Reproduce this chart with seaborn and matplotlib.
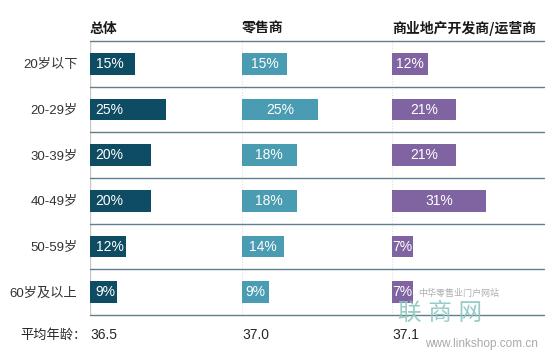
import matplotlib
matplotlib.use("Agg")
import matplotlib.pyplot as plt
import seaborn as sns
import pandas as pd

categories = ["20岁以下", "20-29岁", "30-39岁", "40-49岁", "50-59岁", "60岁及以上"]
panel_titles = ["总体", "零售商", "商业地产开发商/运营商"]
overall = [15, 25, 20, 20, 12, 9]
retailers = [15, 25, 18, 18, 14, 9]
developers = [12, 21, 21, 31, 7, 7]
avg_label = "平均年龄："
avg_ages = [36.5, 37.0, 37.1]

colors = ["#0e4c63", "#4a9cb2", "#8064a2"]
series = [overall, retailers, developers]
label_align = ["left", "center", "center"]

sns.set_style("white")
plt.rcParams["font.family"] = ["Liberation Sans", "Noto Sans CJK SC"]
plt.rcParams["axes.unicode_minus"] = False

W, H = 550, 352
fig = plt.figure(figsize=(W / 100, H / 100), dpi=100)

left0 = 90
pw = [152, 150, 152]
top, bottom = 41, 315
axes = []
x = left0
for i in range(3):
    ax = fig.add_axes([x / W, 1 - bottom / H, pw[i] / W, (bottom - top) / H])
    x += pw[i]
    axes.append(ax)

for i, ax in enumerate(axes):
    df = pd.DataFrame({"cat": categories, "val": series[i]})
    sns.barplot(data=df, x="val", y="cat", orient="h", color=colors[i],
                saturation=1, width=0.48, ax=ax, edgecolor="none")
    ax.set_xlim(0, pw[i] / 3.03)
    ax.set_ylim(len(categories) - 0.5, -0.5)
    ax.set_xlabel("")
    ax.set_ylabel("")
    ax.set_xticks([])
    for s in ax.spines.values():
        s.set_visible(False)
    for b in range(len(categories) + 1):
        ax.axhline(b - 0.5, color="#5f7f8c", lw=1.0, clip_on=False, zorder=3)
    if i == 0:
        ax.axvline(0, color="#c8c8c8", lw=1.0, zorder=0)
        ax.tick_params(axis="y", length=0, pad=9, labelsize=9.5, labelcolor="#333333")
    else:
        ax.axvline(0, color="#dedede", lw=0.8, ls=(0, (1, 1.5)), zorder=0)
        ax.set_yticks([])
    for j, v in enumerate(series[i]):
        if label_align[i] == "left":
            ax.annotate(f"{v}%", (0, j), xytext=(4, 0), textcoords="offset points",
                        ha="left", va="center", color="white", fontsize=10)
        else:
            ax.text(v / 2, j, f"{v}%", ha="center", va="center",
                    color="white", fontsize=10)
    ax.text(0, 1 + 5 / (bottom - top), panel_titles[i], transform=ax.transAxes,
            ha="left", va="bottom", fontsize=10, fontweight="bold",
            family=["Noto Sans CJK SC"], color="#1a1a1a")
    ax.text(0, -20 / (bottom - top), f"{avg_ages[i]:.1f}", transform=ax.transAxes,
            ha="left", va="center", fontsize=10, color="#262626")

fig.text(20 / W, 1 - 335 / H, avg_label, ha="left", va="center", fontsize=9.5,
         color="#262626")

# watermark
fig.text(418 / W, 1 - 293 / H, "中华零售业门户网站", ha="left", va="center",
         fontsize=6.5, color="#9a9a9a", alpha=0.8)
fig.text(440 / W, 1 - 314 / H, "联 商 网", ha="center", va="center",
         fontsize=17, color="#8cc8c0", alpha=0.9)
fig.text(425 / W, 1 - 344 / H, "www.linkshop.com.cn", ha="left", va="center",
         fontsize=8.5, color="#a0a0a0", alpha=0.9)

fig.savefig("out.png", dpi=100)
